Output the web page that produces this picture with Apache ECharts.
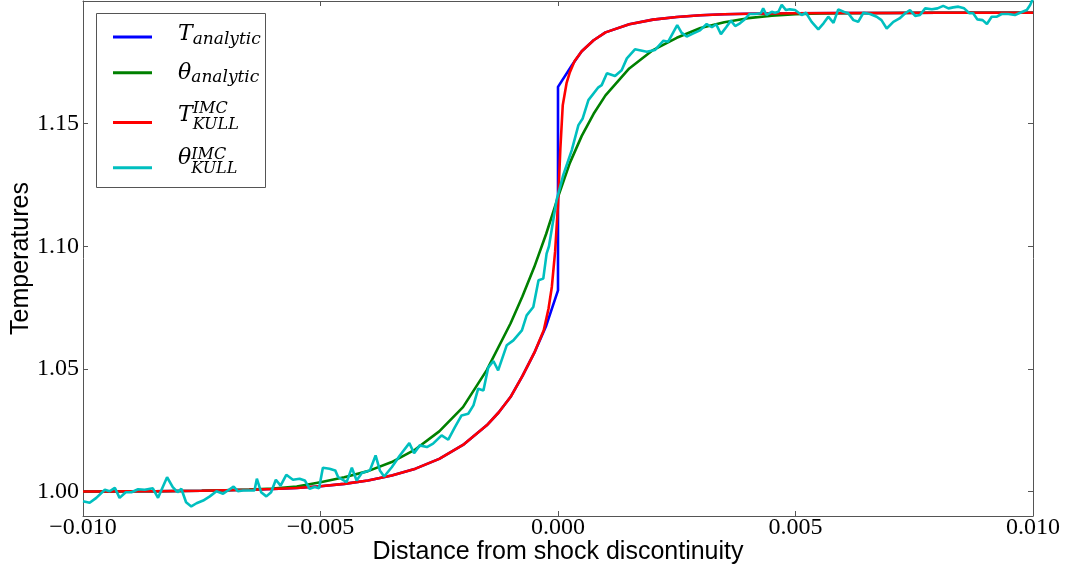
<!DOCTYPE html>
<html><head><meta charset="utf-8">
<script src="https://cdn.jsdelivr.net/npm/echarts@6/dist/echarts.min.js"></script>
<style>html,body{margin:0;padding:0;background:#fff}#c{width:1069px;height:573px}</style>
</head><body><div id="c"></div>
<script>
// ---- data ----
const xTicks = [-0.010, -0.005, 0.000, 0.005, 0.010];
const yTicks = [1.00, 1.05, 1.10, 1.15];
const seriesNames = ['T_analytic', 'theta_analytic', 'T_KULL', 'theta_KULL'];
const seriesColors = ['#0000ff', '#008000', '#ff0000', '#00bfbf'];

const blueX = [-0.0100,-0.0095,-0.0090,-0.0085,-0.0080,-0.0075,-0.0070,-0.0065,-0.0060,-0.0055,
  -0.0050,-0.0045,-0.0040,-0.0035,-0.0030,-0.0025,-0.0020,-0.0015,-0.00125,-0.0010,-0.00075,-0.0005,-0.00025,0,0,
  0.0003,0.0005,0.00075,0.0010,0.0015,0.0020,0.0025,0.0030,0.0035,0.0040,0.0050,0.0060,0.0070,0.0080,0.0090,0.0100];
const blueY = [1.0000,1.0000,1.0001,1.0001,1.0002,1.0003,1.0005,1.0007,1.0010,1.0014,
  1.0021,1.0031,1.0045,1.0065,1.0093,1.0133,1.0190,1.0270,1.0322,1.0385,1.0470,1.0565,1.0675,1.0820,1.1650,
  1.1740,1.1795,1.1840,1.1872,1.1905,1.1924,1.1935,1.1942,1.1946,1.1948,1.1950,1.1951,1.1951,1.1952,1.1952,1.1952];

const greenX = [-0.0100,-0.0095,-0.0090,-0.0085,-0.0080,-0.0075,-0.0070,-0.0065,-0.0060,-0.0055,
  -0.0050,-0.0045,-0.0040,-0.0035,-0.0030,-0.0025,-0.0020,-0.0015,-0.0010,-0.00075,-0.0005,-0.00025,0.0000,
  0.00025,0.0005,0.00075,0.0010,0.0015,0.0020,0.0025,0.0030,0.0035,0.0040,0.0045,0.0050,0.0055,0.0060,0.0070,0.0080,0.0090,0.0100];
const greenY = [1.0000,1.0000,1.0001,1.0001,1.0002,1.0003,1.0005,1.0008,1.0012,1.0020,
  1.0038,1.0058,1.0083,1.0120,1.0172,1.0245,1.0344,1.0495,1.0685,1.0795,1.0915,1.1050,1.1200,
  1.1340,1.1450,1.1540,1.1615,1.1725,1.1800,1.1850,1.1890,1.1913,1.1930,1.1940,1.1946,1.1949,1.1950,1.1951,1.1952,1.1952,1.1952];

const redX = [-0.0100,-0.0095,-0.0090,-0.0085,-0.0080,-0.0075,-0.0070,-0.0065,-0.0060,-0.0055,
  -0.0050,-0.0045,-0.0040,-0.0035,-0.0030,-0.0025,-0.0020,-0.0015,-0.00125,-0.0010,-0.00075,-0.0005,
  -0.0003,-0.0002,-0.00013,-0.00006,0,0.00005,0.0001,0.00018,0.00025,0.00035,0.0005,
  0.00075,0.0010,0.0015,0.0020,0.0025,0.0030,0.0035,0.0040,0.0050,0.0060,0.0070,0.0080,0.0090,0.0100];
const redY = [1.0000,1.0000,1.0001,1.0001,1.0002,1.0003,1.0005,1.0007,1.0010,1.0014,
  1.0021,1.0031,1.0045,1.0065,1.0093,1.0133,1.0190,1.0270,1.0322,1.0385,1.0470,1.0565,
  1.0657,1.0745,1.0834,1.0980,1.1170,1.1400,1.1575,1.1665,1.1710,1.1755,1.1795,
  1.1840,1.1872,1.1905,1.1924,1.1935,1.1942,1.1946,1.1948,1.1950,1.1951,1.1951,1.1952,1.1952,1.1952];

const cyanX = [
-0.01000,-0.00986,-0.00972,-0.00954,-0.00944,-0.00933,-0.00923,-0.00910,-0.00898,-0.00884,
-0.00870,-0.00853,-0.00842,-0.00823,-0.00811,-0.00801,-0.00793,-0.00783,-0.00772,-0.00761,
-0.00747,-0.00733,-0.00719,-0.00705,-0.00695,-0.00683,-0.00674,-0.00663,-0.00649,-0.00639,
-0.00634,-0.00625,-0.00614,-0.00604,-0.00594,-0.00584,-0.00572,-0.00558,-0.00544,-0.00533,
-0.00523,-0.00512,-0.00503,-0.00495,-0.00481,-0.00469,-0.00463,-0.00445,-0.00434,-0.00424,
-0.00413,-0.00396,-0.00384,-0.00375,-0.00366,-0.00350,-0.00333,-0.00313,-0.00303,-0.00291,
-0.00276,-0.00263,-0.00245,-0.00231,-0.00217,-0.00203,-0.00189,-0.00178,-0.00168,-0.00157,
-0.00147,-0.00136,-0.00126,-0.00108,-0.00094,-0.00076,-0.00066,-0.00052,-0.00041,-0.00031,
-0.00024,-0.00019,-0.00003,0.00011,0.00029,0.00043,0.00052,0.00064,0.00085,0.00092,
0.00103,0.00120,0.00134,0.00145,0.00162,0.00187,0.00204,0.00222,0.00232,0.00251,
0.00260,0.00271,0.00285,0.00299,0.00313,0.00324,0.00333,0.00343,0.00354,0.00364,
0.00373,0.00383,0.00394,0.00403,0.00415,0.00427,0.00432,0.00439,0.00450,0.00457,
0.00464,0.00471,0.00480,0.00488,0.00499,0.00513,0.00522,0.00534,0.00548,0.00559,
0.00569,0.00580,0.00590,0.00601,0.00611,0.00622,0.00632,0.00643,0.00657,0.00671,
0.00681,0.00692,0.00706,0.00719,0.00731,0.00741,0.00752,0.00762,0.00773,0.00787,
0.00799,0.00811,0.00822,0.00832,0.00843,0.00855,0.00866,0.00874,0.00883,0.00894,
0.00903,0.00913,0.00924,0.00934,0.00948,0.00962,0.00973,0.00987,0.00994,0.01000];
const cyanY = [
0.9960,0.9954,0.9974,1.0007,1.0001,1.0015,0.9974,0.9997,0.9997,1.0009,
1.0007,1.0013,0.9974,1.0058,1.0018,0.9997,1.0011,0.9956,0.9939,0.9952,
0.9963,0.9980,1.0001,0.9991,1.0004,1.0020,1.0001,1.0004,1.0004,1.0004,
1.0052,0.9997,0.9980,0.9997,1.0048,1.0024,1.0068,1.0048,1.0052,1.0045,
1.0011,1.0018,1.0013,1.0097,1.0093,1.0086,1.0059,1.0038,1.0097,1.0045,
1.0075,1.0086,1.0147,1.0086,1.0061,1.0099,1.0147,1.0197,1.0156,1.0188,
1.0181,1.0195,1.0229,1.0211,1.0262,1.0310,1.0317,1.0351,1.0419,1.0412,
1.0505,1.0532,1.0494,1.0596,1.0616,1.0657,1.0718,1.0752,1.0861,1.0868,
1.0970,1.1000,1.1188,1.1290,1.1392,1.1494,1.1521,1.1596,1.1648,1.1657,
1.1705,1.1694,1.1718,1.1766,1.1803,1.1793,1.1800,1.1838,1.1834,1.1902,
1.1871,1.1855,1.1868,1.1880,1.1906,1.1893,1.1905,1.1865,1.1893,1.1920,
1.1898,1.1909,1.1927,1.1947,1.1947,1.1950,1.1970,1.1943,1.1956,1.1952,
1.1956,1.1984,1.1963,1.1966,1.1963,1.1943,1.1952,1.1915,1.1884,1.1909,
1.1936,1.1911,1.1966,1.1956,1.1950,1.1922,1.1915,1.1952,1.1947,1.1936,
1.1922,1.1888,1.1915,1.1929,1.1950,1.1963,1.1939,1.1943,1.1970,1.1966,
1.1970,1.1980,1.1970,1.1974,1.1977,1.1970,1.1950,1.1950,1.1925,1.1922,
1.1906,1.1936,1.1936,1.1947,1.1947,1.1943,1.1952,1.1963,1.1984,1.2010];

// ---- chart ----
function pairs(xs, ys) {
  const n = Math.min(xs.length, ys.length), out = [];
  for (let i = 0; i < n; i++) out.push([xs[i], ys[i]]);
  return out;
}
function fmtX(v) {
  const s = Math.abs(v).toFixed(3);
  return (v < -1e-12 ? '\u2212' : '') + s;
}
const frame = '#555';
function tok(size, lh, va, off, col) {
  return {
    fontFamily: 'DejaVu Serif', fontStyle: 'italic', color: col || '#000',
    fontSize: size, lineHeight: lh, height: 0, verticalAlign: va,
    padding: va === 'top' ? [off, 0, 0, 0] : [0, 0, off, 0]
  };
}
const clear = 'rgba(0,0,0,0)';
const rich = {
  a1: tok(22, 2, 'bottom', 3.5), s1: tok(17, 2, 'top', 4),
  a2: tok(22, 2, 'top', 1.7), s2: tok(17, 2, 'top', 6),
  a3: tok(22, 1, 'bottom', 7.5), p3: tok(16, 1, 'bottom', 14),
  g3: tok(22, 1, 'top', 0, clear), k3: tok(16, 1, 'top', 2),
  a4: tok(22, 1, 'bottom', 9.7), p4: tok(16, 1, 'bottom', 13.3),
  g4: tok(22, 1, 'top', 0, clear), k4: tok(16, 1, 'top', 1.5)
};
const legendText = {
  'T_analytic': '{a1|T}{s1|analytic}',
  'theta_analytic': '{a2|\u03b8}{s2|analytic}',
  'T_KULL': '{a3|T}{p3|IMC}\n{g3|T}{k3|KULL}',
  'theta_KULL': '{a4|\u03b8}{p4|IMC}\n{g4|\u03b8}{k4|KULL}'
};
const legendIconY = [35, 74, 122, 168];
const legendBoxLift = [10, 10, 20, 20];
const dataSets = [pairs(blueX, blueY), pairs(greenX, greenY), pairs(redX, redY), pairs(cyanX, cyanY)];

const axisCommon = {
  type: 'value',
  axisLine: {show: true, onZero: false, lineStyle: {color: frame, width: 1}},
  splitLine: {show: false},
  nameMoveOverlap: false
};
const legends = seriesNames.map(function (n, i) {
  return {
    data: [n],
    orient: 'vertical',
    left: 113, top: legendIconY[i] - 1.5 - legendBoxLift[i],
    padding: 0, itemGap: 0,
    itemWidth: 39, itemHeight: 3,
    icon: 'rect',
    selectedMode: false,
    z: 20,
    formatter: function (name) { return legendText[name]; },
    textStyle: {color: '#000', padding: [0, 0, 0, 21], rich: rich}
  };
});
const chart = echarts.init(document.getElementById('c'), null, {renderer: 'canvas'});
chart.setOption({
  animation: false,
  backgroundColor: '#fff',
  grid: {left: 83, right: 36, top: 1, bottom: 57, containLabel: false, outerBoundsMode: 'none'},
  graphic: [{
    type: 'rect', z: 15, silent: true,
    shape: {x: 96.5, y: 13.5, width: 169, height: 174},
    style: {fill: '#fff', stroke: frame, lineWidth: 1}
  }],
  legend: legends,
  xAxis: [
    Object.assign({}, axisCommon, {
      min: -0.01, max: 0.01, position: 'bottom',
      axisTick: {show: true, inside: true, length: 5, customValues: xTicks, lineStyle: {color: frame}},
      axisLabel: {customValues: xTicks, formatter: fmtX, fontFamily: 'Liberation Serif', fontSize: 24, color: '#000', margin: 0},
      name: 'Distance from shock discontinuity', nameLocation: 'middle', nameGap: 36,
      nameTextStyle: {fontFamily: 'Liberation Sans', fontSize: 25, color: '#000', verticalAlign: 'middle', align: 'center'}
    }),
    Object.assign({}, axisCommon, {
      min: -0.01, max: 0.01, position: 'top',
      axisTick: {show: true, inside: true, length: 5, customValues: xTicks, lineStyle: {color: frame}},
      axisLabel: {show: false}
    })
  ],
  yAxis: [
    Object.assign({}, axisCommon, {
      min: 0.99, max: 1.2, position: 'left',
      axisTick: {show: true, inside: true, length: 5, customValues: yTicks, lineStyle: {color: frame}},
      axisLabel: {customValues: yTicks, formatter: function (v) { return v.toFixed(2); }, fontFamily: 'Liberation Serif', fontSize: 24, color: '#000', margin: 4},
      name: 'Temperatures', nameLocation: 'middle', nameGap: 62, nameRotate: 90,
      nameTextStyle: {fontFamily: 'Liberation Sans', fontSize: 25, color: '#000', verticalAlign: 'middle', align: 'center'}
    }),
    Object.assign({}, axisCommon, {
      min: 0.99, max: 1.2, position: 'right',
      axisTick: {show: true, inside: true, length: 5, customValues: yTicks, lineStyle: {color: frame}},
      axisLabel: {show: false}
    })
  ],
  series: seriesNames.map(function (n, i) {
    return {
      name: n, type: 'line', xAxisIndex: 0, yAxisIndex: 0,
      data: dataSets[i],
      showSymbol: false, symbol: 'none',
      smooth: false,
      color: seriesColors[i],
      itemStyle: {color: seriesColors[i]},
      lineStyle: {color: seriesColors[i], width: 2.6},
      emphasis: {disabled: true},
      clip: true,
      z: 2 + i
    };
  })
});
</script></body></html>
